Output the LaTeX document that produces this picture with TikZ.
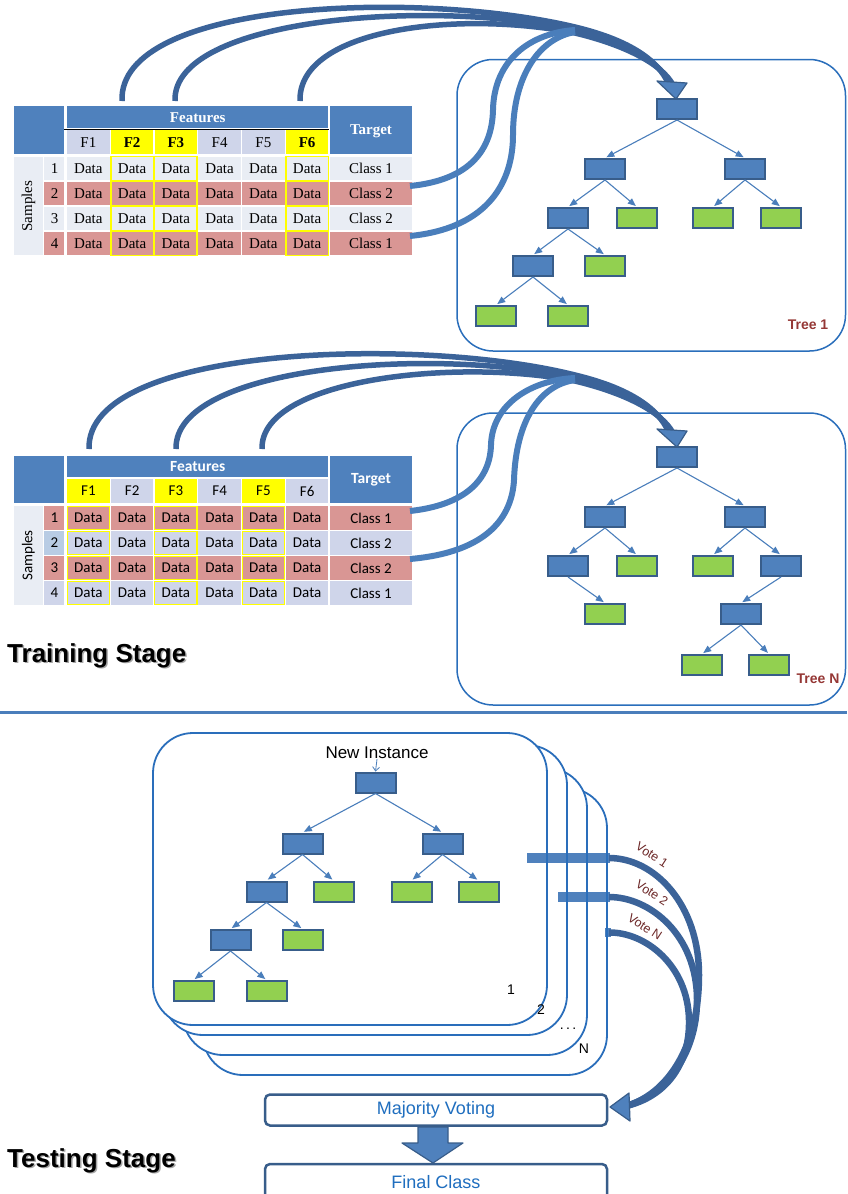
\documentclass[tikz,border=0pt]{standalone}
\usepackage{fontspec}
\setmainfont{Liberation Sans}
\newfontfamily\tserif{Liberation Serif}
\newfontfamily\tcal{Carlito}
\usetikzlibrary{arrows.meta}
\definecolor{hdr}{HTML}{4F81BD}
\definecolor{nodeb}{HTML}{4F81BD}
\definecolor{nodebd}{HTML}{385D8A}
\definecolor{leafg}{HTML}{92D050}
\definecolor{rowl}{HTML}{E9EDF4}
\definecolor{rowp}{HTML}{D99694}
\definecolor{subh}{HTML}{CFD5EA}
\definecolor{rowg}{HTML}{D0D8E8}
\definecolor{numb}{HTML}{B8CCE4}
\definecolor{boxl}{HTML}{2A6EBB}
\definecolor{arcdark}{HTML}{3B6399}
\definecolor{arclight}{HTML}{4A7EBB}
\definecolor{edgec}{HTML}{4A7EBB}
\definecolor{treelbl}{HTML}{953735}
\definecolor{votelbl}{HTML}{6B2626}
\definecolor{txtblue}{HTML}{1F6EBF}
\definecolor{ysel}{HTML}{FFFF00}
\begin{document}
\begin{tikzpicture}[x=1pt,y=-1pt,
  tn/.style={draw=nodebd, line width=2pt, fill=nodeb, minimum width=40pt, minimum height=20pt, inner sep=0pt},
  tl/.style={tn, fill=leafg},
  te/.style={draw=edgec, line width=1.1pt, -{Triangle[length=8pt,width=6.5pt]}, shorten >=1.5pt},
  cellb/.style={draw=white, line width=1.2pt},
  yselbox/.style={draw=ysel, line width=1.2pt},
  t1txt/.style={font=\tserif\fontsize{15}{17}\selectfont, inner sep=0pt},
  t1hd/.style={font=\tserif\bfseries\fontsize{15}{17}\selectfont, text=white, inner sep=0pt},
  t2txt/.style={font=\tcal\fontsize{15}{17}\selectfont, inner sep=0pt},
  t2hd/.style={font=\tcal\bfseries\fontsize{15.5}{17}\selectfont, text=white, inner sep=0pt},
  treebox/.style={draw=boxl, line width=1.5pt, rounded corners=36pt},
  tbox/.style={fill=white, draw=boxl, line width=1.8pt, rounded corners=40pt},
  darkarc/.style={draw=arcdark, line width=5.5pt},
  lightarc/.style={draw=arclight, line width=6pt},
  bighead/.style={fill=nodeb, draw=nodebd, line width=1.2pt, line join=round},
  votecurve/.style={draw=arcdark, line width=6.5pt},
  votetxt/.style={font=\fontsize{12.5}{14}\selectfont, text=votelbl, inner sep=0pt},
  tlabel/.style={font=\bfseries\fontsize{14}{16}\selectfont, text=treelbl, inner sep=0pt},
  stage/.style={font=\bfseries\fontsize{26}{30}\selectfont, anchor=base west, inner sep=0pt},
  flowbox/.style={draw=nodebd, line width=2.5pt, fill=white, rounded corners=5pt, minimum width=342pt, inner sep=0pt, text=txtblue, font=\fontsize{18}{20}\selectfont},
  numtxt/.style={font=\fontsize{14}{16}\selectfont, inner sep=0pt}
]
\useasboundingbox (0,0) rectangle (847,1194);

% ================= TABLE 1 =================
\filldraw[fill=hdr, cellb] (13,105) rectangle (65,155);
\filldraw[fill=hdr, cellb] (66.5,105) rectangle (329,129);
\node[t1hd] (t1feat) at (197.75,117.5) {Features};
\filldraw[fill=hdr, cellb] (329,105) rectangle (413,155);
\node[t1hd] (t1targ) at (371,131) {Target};
\foreach \c/\fc/\fw in {1/subh/\mdseries,2/ysel/\bfseries,3/ysel/\bfseries,4/subh/\mdseries,5/subh/\mdseries,6/ysel/\bfseries} {
  \pgfmathsetmacro\xa{66.5+43.75*(\c-1)}
  \pgfmathsetmacro\xb{\xa+43.75}
  \filldraw[fill=\fc, cellb] (\xa,129) rectangle (\xb,155);
  \node[t1txt, font=\tserif\fw\fontsize{15}{17}\selectfont] (t1f\c) at ({(\xa+\xb)/2},142.5) {F\c};
}
\draw[black, line width=0.8pt] (64,129) -- (329,129);
\filldraw[fill=rowl, cellb] (13,156) rectangle (43.5,256);
\node[t1txt, rotate=90] (t1samp) at (28.5,206) {Samples};
\foreach \r/\fillc/\cls in {1/rowl/1,2/rowp/2,3/rowl/2,4/rowp/1} {
  \pgfmathsetmacro\ya{156+25*(\r-1)}
  \pgfmathsetmacro\yb{\ya+25}
  \filldraw[fill=\fillc, cellb] (43.5,\ya) rectangle (65,\yb);
  \node[t1txt] (t1n\r) at (54.5,{(\ya+\yb)/2}) {\r};
  \foreach \c in {1,...,6} {
    \pgfmathsetmacro\xa{66.5+43.75*(\c-1)}
    \pgfmathsetmacro\xb{\xa+43.75}
    \filldraw[fill=\fillc, cellb] (\xa,\ya) rectangle (\xb,\yb);
    \node[t1txt] (t1d\r\c) at ({(\xa+\xb)/2},{(\ya+\yb)/2}) {Data};
  }
  \filldraw[fill=\fillc, cellb] (329,\ya) rectangle (413,\yb);
  \node[t1txt] (t1c\r) at (371,{(\ya+\yb)/2}) {Class \cls};
}
\foreach \c in {2,3,6} {
  \foreach \r in {1,...,4} {
    \pgfmathsetmacro\xa{66.5+43.75*(\c-1)+0.8}
    \pgfmathsetmacro\xb{\xa+43.75-1.6}
    \pgfmathsetmacro\ya{156+25*(\r-1)+0.8}
    \pgfmathsetmacro\yb{\ya+25-1.6}
    \draw[yselbox] (\xa,\ya) rectangle (\xb,\yb);
  }
}

% ================= TABLE 2 =================
\filldraw[fill=hdr, cellb] (13,455) rectangle (65,503.5);
\filldraw[fill=hdr, cellb] (66.5,455) rectangle (329,478);
\node[t2hd] (t2feat) at (197.75,466.5) {Features};
\filldraw[fill=hdr, cellb] (329,455) rectangle (413,503.5);
\node[t2hd] (t2targ) at (371,480) {Target};
\foreach \c/\fc in {1/ysel,2/subh,3/ysel,4/subh,5/ysel,6/subh} {
  \pgfmathsetmacro\xa{66.5+43.75*(\c-1)}
  \pgfmathsetmacro\xb{\xa+43.75}
  \filldraw[fill=\fc, cellb] (\xa,478.5) rectangle (\xb,503.5);
  \node[t2txt] (t2f\c) at ({(\xa+\xb)/2},491) {F\c};
}
\filldraw[fill=rowl, cellb] (13,505.5) rectangle (43.5,605.5);
\node[t2txt, rotate=90] (t2samp) at (28.5,555.5) {Samples};
\foreach \r/\fillc/\numc/\cls in {1/rowp/rowp/1,2/subh/numb/2,3/rowp/rowp/2,4/subh/subh/1} {
  \pgfmathsetmacro\ya{505.5+25*(\r-1)}
  \pgfmathsetmacro\yb{\ya+25}
  \filldraw[fill=\numc, cellb] (43.5,\ya) rectangle (65,\yb);
  \node[t2txt] (t2n\r) at (54.5,{(\ya+\yb)/2}) {\r};
  \foreach \c in {1,...,6} {
    \pgfmathsetmacro\xa{66.5+43.75*(\c-1)}
    \pgfmathsetmacro\xb{\xa+43.75}
    \filldraw[fill=\fillc, cellb] (\xa,\ya) rectangle (\xb,\yb);
    \node[t2txt] (t2d\r\c) at ({(\xa+\xb)/2},{(\ya+\yb)/2}) {Data};
  }
  \filldraw[fill=\fillc, cellb] (329,\ya) rectangle (413,\yb);
  \node[t2txt] (t2c\r) at (371,{(\ya+\yb)/2}) {Class \cls};
}
\foreach \c in {1,3,5} {
  \foreach \r in {1,...,4} {
    \pgfmathsetmacro\xa{66.5+43.75*(\c-1)+0.8}
    \pgfmathsetmacro\xb{\xa+43.75-1.6}
    \pgfmathsetmacro\ya{505.5+25*(\r-1)+0.8}
    \pgfmathsetmacro\yb{\ya+25-1.6}
    \draw[yselbox] (\xa,\ya) rectangle (\xb,\yb);
  }
}

% ================= TREE 1 =================
\draw[treebox] (457,59.5) rectangle (845.5,351);
\node[tn] (r1)  at (677,109) {};
\node[tn] (r1a) at (605,169) {};
\node[tn] (r1b) at (745,169) {};
\node[tn] (r1c) at (568,218) {};
\node[tl] (r1d) at (637,218) {};
\node[tl] (r1e) at (713,218) {};
\node[tl] (r1f) at (781,218) {};
\node[tn] (r1g) at (533,266) {};
\node[tl] (r1h) at (605,266) {};
\node[tl] (r1i) at (496,316) {};
\node[tl] (r1j) at (568,316) {};
\foreach \p/\c in {r1/r1a,r1/r1b,r1a/r1c,r1a/r1d,r1b/r1e,r1b/r1f,r1c/r1g,r1c/r1h,r1g/r1i,r1g/r1j}
  \draw[te] (\p.south) -- (\c.north);
\node[tlabel] (lt1) at (808,325) {Tree 1};

% ================= TREE N =================
\draw[treebox] (457,413) rectangle (845.5,705);
\node[tn] (rn)  at (677,457) {};
\node[tn] (rna) at (605,517) {};
\node[tn] (rnb) at (745,517) {};
\node[tn] (rnc) at (568,566) {};
\node[tl] (rnd) at (637,566) {};
\node[tl] (rne) at (713,566) {};
\node[tn] (rnf) at (781,566) {};
\node[tl] (rng) at (605,614) {};
\node[tn] (rnh) at (741,614) {};
\node[tl] (rni) at (702,665) {};
\node[tl] (rnj) at (769,665) {};
\foreach \p/\c in {rn/rna,rn/rnb,rna/rnc,rna/rnd,rnb/rne,rnb/rnf,rnc/rng,rnf/rnh,rnh/rni,rnh/rnj}
  \draw[te] (\p.south) -- (\c.north);
\node[tlabel] (ltn) at (818,679) {Tree N};

% ================= ARCS SECTION 1 =================
\coordinate (s1a) at (122,101);
\coordinate (s1b) at (175,101);
\coordinate (s1c) at (300,101);
\coordinate (e1a) at (669,85);
\coordinate (e1b) at (671,85);
\coordinate (e1c) at (673,85);
\draw[darkarc] (s1a) .. controls (118,0) and (420,-10) .. (575,27) .. controls (625,39) and (658,58) .. (e1a);
\draw[darkarc] (s1b) .. controls (172,18) and (430,-2) .. (575,30) .. controls (625,42) and (660,61) .. (e1b);
\draw[darkarc] (s1c) .. controls (298,28) and (460,10) .. (575,33) .. controls (625,45) and (662,64) .. (e1c);
\coordinate (l1a) at (410,186);
\coordinate (l1b) at (410,236);
\draw[lightarc] (l1a) .. controls (470,180) and (492,150) .. (493,110) .. controls (494,60) and (530,33) .. (575,30);
\draw[lightarc] (l1b) .. controls (490,228) and (513,180) .. (513,135) .. controls (513,75) and (540,38) .. (575,32);
\draw[bighead] (657,81) -- (687,83) -- (676,99) -- cycle;

% ================= ARCS SECTION 2 =================
\coordinate (s2a) at (89,449);
\coordinate (s2b) at (176,449);
\coordinate (s2c) at (262,449);
\coordinate (e2a) at (669,433);
\coordinate (e2b) at (671,433);
\coordinate (e2c) at (673,433);
\draw[darkarc] (s2a) .. controls (86,345) and (420,336) .. (575,375) .. controls (625,387) and (658,406) .. (e2a);
\draw[darkarc] (s2b) .. controls (174,366) and (430,346) .. (575,378) .. controls (625,390) and (660,409) .. (e2b);
\draw[darkarc] (s2c) .. controls (260,378) and (460,358) .. (575,381) .. controls (625,393) and (662,412) .. (e2c);
\coordinate (l2a) at (410,511);
\coordinate (l2b) at (410,559);
\draw[lightarc] (l2a) .. controls (465,505) and (490,480) .. (491,445) .. controls (492,405) and (530,380) .. (575,378);
\draw[lightarc] (l2b) .. controls (490,552) and (512,515) .. (514,480) .. controls (516,420) and (540,385) .. (575,380);
\draw[bighead] (657,429) -- (687,431) -- (677,447) -- cycle;

% ================= STAGE LABELS, DIVIDER =================
\draw[draw=arclight, line width=3pt] (0,712) -- (847,712);
\node[stage, text=black!35] (trs) at (8.5,663.5) {Training Stage};
\node[stage] (tr) at (7,662) {Training Stage};
\node[stage, text=black!35] (tss) at (8.5,1168.5) {Testing Stage};
\node[stage] (ts) at (7,1167) {Testing Stage};

% ================= TESTING BOXES =================
\foreach \xa/\ya/\xb/\yb in {203/788/607/1075, 183/768/587/1055, 163/745/567/1035, 153/733/547/1025}
  \filldraw[tbox] (\xa,\ya) rectangle (\xb,\yb);

\node[font=\fontsize{17}{19}\selectfont, inner sep=0pt] (ni) at (377,753) {New Instance};
\node[tn] (q)  at (375.5,782.5) {};
\node[tn] (qa) at (302.5,843.5) {};
\node[tn] (qb) at (442.5,843.5) {};
\node[tn] (qc) at (266.5,891.5) {};
\node[tl] (qd) at (333.5,891.5) {};
\node[tl] (qe) at (411.5,891.5) {};
\node[tl] (qf) at (478.5,891.5) {};
\node[tn] (qg) at (230.5,940) {};
\node[tl] (qh) at (302.5,940) {};
\node[tl] (qi) at (193.5,991) {};
\node[tl] (qj) at (266.5,991) {};
\draw[draw=edgec, line width=0.8pt, -{Straight Barb[length=4pt,width=7pt]}] (ni.south) -- (q.north);
\foreach \p/\c in {q/qa,q/qb,qa/qc,qa/qd,qb/qe,qb/qf,qc/qg,qc/qh,qg/qi,qg/qj}
  \draw[te] (\p.south) -- (\c.north);

\node[numtxt] (n1) at (511,990) {1};
\node[numtxt] (n2) at (541,1010) {2};
\node[numtxt] (ndots) at (568,1029) {.\,.\,.};
\node[numtxt] (nN) at (584,1049) {N};

% ================= VOTES =================
\fill[nodeb] (527,853) rectangle (610,863);
\fill[nodeb] (558,892) rectangle (610,902);
\fill[nodeb] (605,928) rectangle (611,937);
\foreach \x/\ya/\yb in {547/773/985, 567/785/995, 587/808/1015, 607/828/1035}
  \draw[draw=boxl, line width=1.8pt] (\x,\ya) -- (\x,\yb);

\coordinate (v1s) at (609,858);
\coordinate (v2s) at (609,897);
\coordinate (vNs) at (609,932.5);
\coordinate (vend) at (626,1106);
\draw[votecurve] (v1s) .. controls (655,858) and (699,905) .. (699,975) .. controls (699,1050) and (665,1095) .. (vend);
\draw[votecurve] (v2s) .. controls (650,897) and (697,935) .. (697,1000) .. controls (697,1055) and (665,1095) .. (vend);
\draw[votecurve] (vNs) .. controls (645,932) and (688,965) .. (689,1020) .. controls (690,1065) and (665,1097) .. (vend);
\draw[bighead] (610,1107) -- (629,1093) -- (630,1121) -- cycle;

\node[votetxt, rotate=-33] (vt1) at (652,855) {Vote 1};
\node[votetxt, rotate=-33] (vt2) at (652,893) {Vote 2};
\node[votetxt, rotate=-33] (vtN) at (645,927) {Vote N};

% ================= MAJORITY / FINAL =================
\node[flowbox, minimum height=31pt] (mv) at (436,1110) {Majority Voting};
\draw[bighead] (418,1127) -- (448,1127) -- (448,1143) -- (463,1143) -- (433,1163) -- (402,1143) -- (418,1143) -- cycle;
\node[flowbox, minimum height=36pt] (fc) at (436,1182) {Final Class};
\end{tikzpicture}
\end{document}
